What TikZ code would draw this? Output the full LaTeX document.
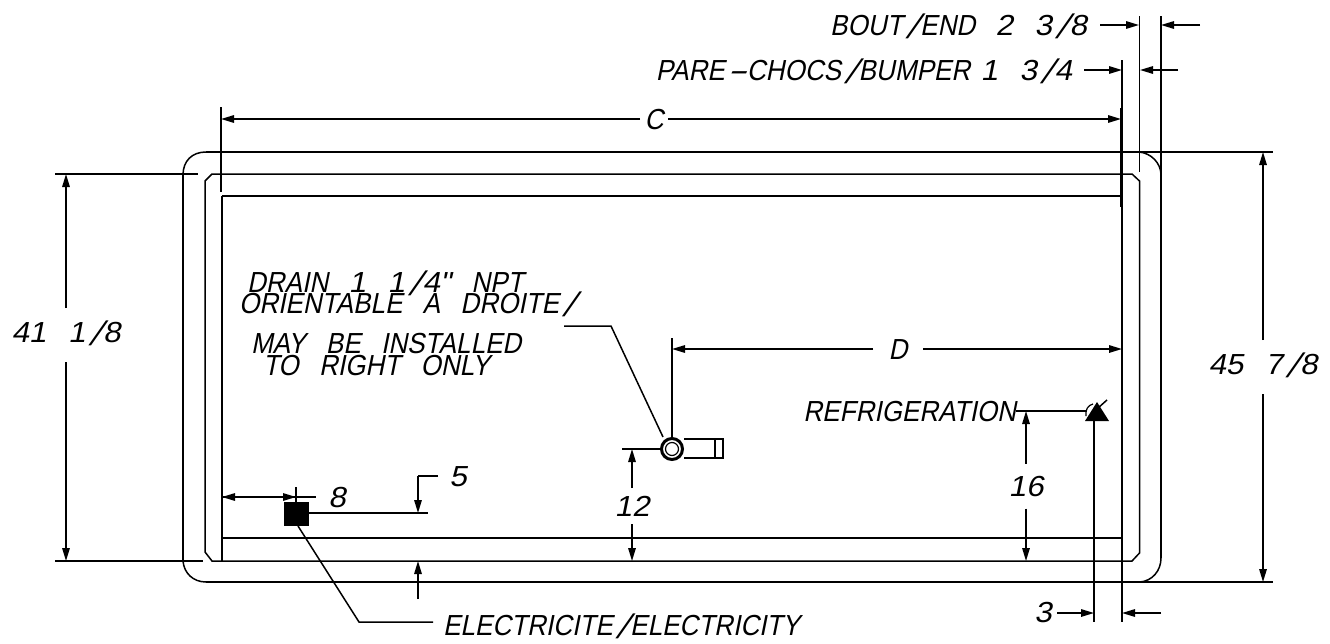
\documentclass[tikz,border=0pt]{standalone}
\usepackage{fontspec}
\setmainfont{Liberation Sans}[FakeSlant=0.2,FakeStretch=0.9,WordSpace=2.8]
\newfontfamily\numf{Liberation Sans}[FakeSlant=0.2,FakeStretch=1.08,WordSpace=2.5]
\newfontfamily\slaf{Liberation Sans}[FakeSlant=0.43]
\newcommand{\sla}{\kern3pt\raisebox{-3pt}{\fontsize{34}{34}\slaf /}\kern5pt}
\newcommand{\hyp}{\kern1pt\scalebox{2.3}[1]{-}\kern1pt}
\usetikzlibrary{arrows.meta}
\tikzset{
  ln/.style={line width=1.5pt,black,line cap=butt},
  thick2/.style={line width=2pt,black},
  tip/.style={ln,-{Stealth[length=13pt,width=7.5pt,inset=0pt]}},
  lab/.style={inner sep=0pt,outer sep=0pt,text height=20pt,text depth=0pt,font=\fontsize{29}{29}\selectfont},
}
\begin{document}
\begin{tikzpicture}[x=1pt,y=-1pt]
\useasboundingbox (0,0) rectangle (1330,643);
% body outline
\draw[ln] (55,174) -- (198,174);
\draw[ln] (55,561) -- (203,561);
\draw[ln] (206,152) -- (1273,152);
\draw[ln] (206,582) -- (1273,582);
\draw[ln] (183,175) .. controls (183,161) and (192,152) .. (206,152);
\draw[ln] (183,561) .. controls (184,573) and (193,582) .. (206,582);
\draw[ln] (1139,152) .. controls (1151,153) and (1161,163) .. (1161,175);
\draw[ln] (1161,558) .. controls (1161,571) and (1152,581) .. (1140,582);
\draw[ln] (183,175) -- (183,561);
\draw[ln] (1161,16) -- (1161,558);
\draw[ln] (1139.5,16) -- (1139.5,172);
\draw[ln] (205,552) -- (205,181) -- (212,174) -- (1132,174) -- (1139.5,181) -- (1139.5,553) -- (1132,561) -- (212,561) -- cycle;
\draw[ln] (222,196) -- (222,561);
\draw[ln] (222,196) -- (1122,196);
\draw[ln] (222,538) -- (1122,538);
\draw[ln] (1122,60) -- (1122,622);
\draw[thick2] (1121,108) -- (1121,207);
\draw[thick2] (221,107) -- (221,192);
% C
\node[lab,minimum width=28pt] (labC) at (654,119) {C};
\coordinate (cL) at (221,119); \coordinate (cR) at (1121,119);
\draw[tip] (labC.west) -- (cL);
\draw[tip] (labC.east) -- (cR);
% BOUT
\node[lab,anchor=east] (labB) at (1087,25) {BOUT\sla END {\numf 2 3\sla 8}};
\coordinate (bS) at (1100,25); \coordinate (bT) at (1139,25);
\draw[tip] (bS) -- (bT);
\coordinate (bS2) at (1200,25); \coordinate (bT2) at (1161,25);
\draw[tip] (bS2) -- (bT2);
% PARE
\node[lab,anchor=east] (labP) at (1072,70) {PARE\hyp CHOCS\sla BUMPER\kern-10pt{} {\numf 1 3\sla 4}};
\coordinate (pS) at (1084,70); \coordinate (pT) at (1122,70);
\draw[tip] (pS) -- (pT);
\coordinate (pS2) at (1178,70); \coordinate (pT2) at (1140,70);
\draw[tip] (pS2) -- (pT2);
% 41 1/8
\node[lab,text depth=6pt,minimum height=54pt] (lab41) at (66,335) {\numf 41 1\sla 8};
\coordinate (aT) at (66,174); \coordinate (aB) at (66,561);
\draw[tip] (lab41.north) -- (aT);
\draw[tip] (lab41.south) -- (aB);
% 45 7/8
\node[lab,text depth=6pt,minimum height=54pt] (lab45) at (1263,367) {\numf 45 7\sla 8};
\coordinate (eT) at (1263,152); \coordinate (eB) at (1263,582);
\draw[tip] (lab45.north) -- (eT);
\draw[tip] (lab45.south) -- (eB);
% Drain
\node[lab,anchor=west] (d1) at (247,282) {DRAIN {\numf 1 1\sla 4"} NPT};
\node[lab,anchor=west] (d2) at (239,303) {ORIENTABLE A DROITE\sla};
\node[lab,anchor=west] (d3) at (251,343) {MAY BE INSTALLED};
\node[lab,anchor=west] (d4) at (263,365) {TO RIGHT ONLY};
\coordinate (dA) at (564,326); \coordinate (dB) at (611,326); \coordinate (dC) at (663,437);
\draw[ln] (dA) -- (dB) -- (dC);
\node[draw,circle,line width=3pt,minimum size=21pt,inner sep=0pt] (drain) at (672,449) {};
\draw[line width=1.2pt] (drain.center) circle (6.5pt);
\draw[ln] (684,439) -- (723,439) -- (723,458) -- (684,458);
\draw[ln] (715,439) -- (715,458);
\draw[ln] (622,449) -- (drain.west);
% D
\node[lab,minimum width=50pt] (labD) at (898,349) {D};
\coordinate (dL) at (672,349); \coordinate (dR) at (1122,349);
\draw[tip] (labD.west) -- (dL);
\draw[tip] (labD.east) -- (dR);
\draw[ln] (672,338) -- (drain.north);
% 12
\node[lab,minimum height=36pt] (lab12) at (632,506) {\numf 12};
\coordinate (tT) at (632,449); \coordinate (tB) at (632,561);
\draw[tip] (lab12.north) -- (tT);
\draw[tip] (lab12.south) -- (tB);
% Refrigeration
\node[lab,anchor=east] (labR) at (1016,411) {REFRIGERATION};
\coordinate (rE) at (1087,411);
\draw[ln] (labR.east) -- (rE);
\fill (1085,421) -- (1109,421) -- (1097,402) -- cycle;
\draw[ln] (1098,408) -- (1107,400);
\draw[line width=1.2pt] (1086,416) .. controls (1085,410) and (1088,405) .. (1093,404);
\draw[ln] (1094,421) -- (1094,622);
% 16
\node[lab,minimum height=45pt] (lab16) at (1026,486) {\numf 16};
\coordinate (sT) at (1026,411); \coordinate (sB) at (1026,561);
\draw[tip] (lab16.north) -- (sT);
\draw[tip] (lab16.south) -- (sB);
% 3
\node[lab] (lab3) at (1043,612) {\numf 3};
\coordinate (tS) at (1057,613); \coordinate (tE) at (1094,613);
\draw[tip] (tS) -- (tE);
\coordinate (tS2) at (1161,613); \coordinate (tE2) at (1122,613);
\draw[tip] (tS2) -- (tE2);
% 8
\fill (284,502) rectangle (309,526);
\node[lab] (lab8) at (337,497) {\numf 8};
\coordinate (gL) at (222,497); \coordinate (gR) at (296,497); \coordinate (gM) at (316,497);
\draw[ln] (gL) -- (gM);
\draw[tip] (gR) -- (gL);
\draw[tip] (gL) -- (gR);
\draw[ln] (296,487) -- (296,502);
% 5
\node[lab] (lab5) at (458,476) {\numf 5};
\draw[ln] (309,513) -- (428,513);
\coordinate (fA) at (438,476); \coordinate (fB) at (418,476); \coordinate (fC) at (418,513);
\draw[ln] (fA) -- (fB);
\draw[tip] (fB) -- (fC);
\coordinate (fD) at (418,599); \coordinate (fE) at (418,561);
\draw[tip] (fD) -- (fE);
% Electricity
\node[lab,anchor=west] (labE) at (443,625) {ELECTRICITE\sla ELECTRICITY};
\coordinate (lA) at (298,526); \coordinate (lB) at (359,622); \coordinate (lC) at (433,622);
\draw[ln] (lA) -- (lB) -- (lC);
\end{tikzpicture}
\end{document}
